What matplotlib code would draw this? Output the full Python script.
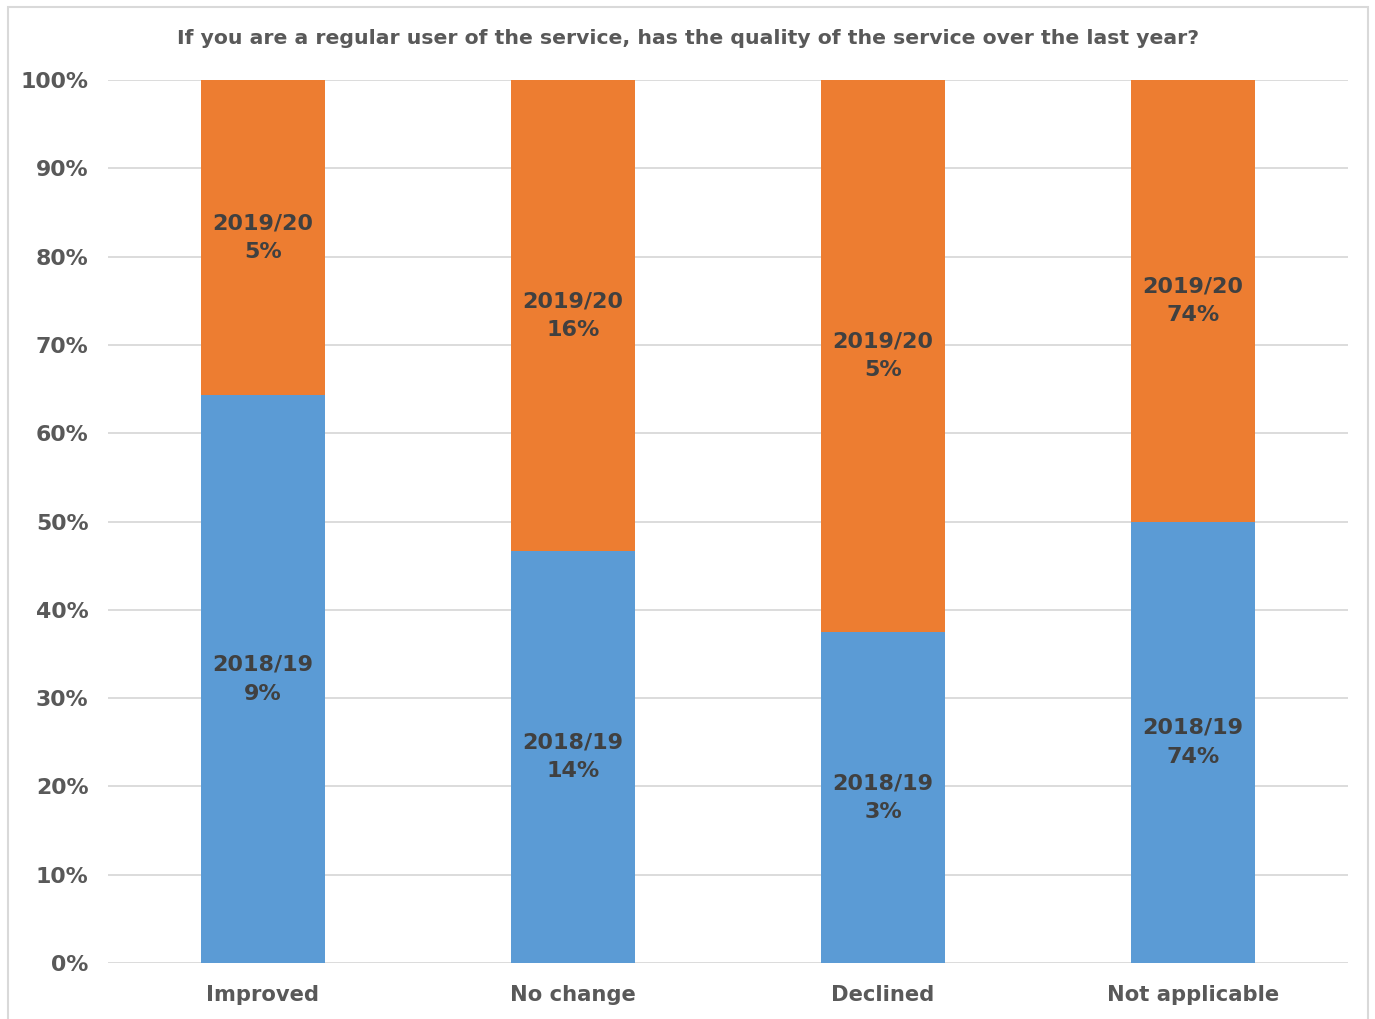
import matplotlib.pyplot as plt
import numpy as np
from matplotlib.patches import Rectangle

categories = ['Improved', 'No change', 'Declined', 'Not applicable']
pct_2018_19 = [9, 14, 3, 74]
pct_2019_20 = [5, 16, 5, 74]
yticks = [0, 10, 20, 30, 40, 50, 60, 70, 80, 90, 100]

blue = '#5b9bd5'
orange = '#ed7d31'
grid_col = '#d9d9d9'
txt = '#595959'
lab = '#404040'

a = np.array(pct_2018_19, dtype=float)
b = np.array(pct_2019_20, dtype=float)
share_a = a / (a + b) * 100
share_b = b / (a + b) * 100

fig = plt.figure(figsize=(13.75, 10.19), dpi=100)
fig.patches.append(Rectangle((8 / 1375, -0.05), 1360 / 1375, 1.05 - 7 / 1019,
                             transform=fig.transFigure, fill=False,
                             edgecolor=grid_col, linewidth=1.5))
ax = fig.add_axes([108 / 1375, 56 / 1019, 1240 / 1375, 883 / 1019])

x = np.arange(len(categories))
ax.bar(x, share_a, width=0.4, color=blue, zorder=3)
ax.bar(x, share_b, width=0.4, bottom=share_a, color=orange, zorder=3)

for i in range(len(categories)):
    ax.text(x[i], share_a[i] / 2, f'2018/19\n{pct_2018_19[i]}%', ha='center',
            va='center', fontsize=16, fontweight='bold', color=lab,
            linespacing=1.55, zorder=4)
    ax.text(x[i], share_a[i] + share_b[i] / 2, f'2019/20\n{pct_2019_20[i]}%',
            ha='center', va='center', fontsize=16, fontweight='bold',
            color=lab, linespacing=1.55, zorder=4)

ax.set_xlim(-0.5, len(categories) - 0.5)
ax.set_ylim(0, 100)
ax.set_yticks(yticks)
ax.set_yticklabels([f'{t}%' for t in yticks])
ax.set_xticks(x)
ax.set_xticklabels(categories)
ax.yaxis.grid(True, color=grid_col, linewidth=1.3, zorder=0)
ax.set_axisbelow(True)
for s in ax.spines.values():
    s.set_visible(False)
ax.tick_params(axis='both', length=0, labelcolor=txt)
ax.tick_params(axis='y', pad=14, labelsize=15.8)
ax.tick_params(axis='x', pad=16, labelsize=15.2)
for t in ax.get_xticklabels() + ax.get_yticklabels():
    t.set_fontweight('bold')

fig.text(688 / 1375, 1 - 39 / 1019,
         'If you are a regular user of the service, has the quality of the service over the last year?',
         ha='center', va='center', fontsize=14.7, fontweight='bold', color=txt)

fig.savefig('out.png', dpi=100, facecolor='white')
